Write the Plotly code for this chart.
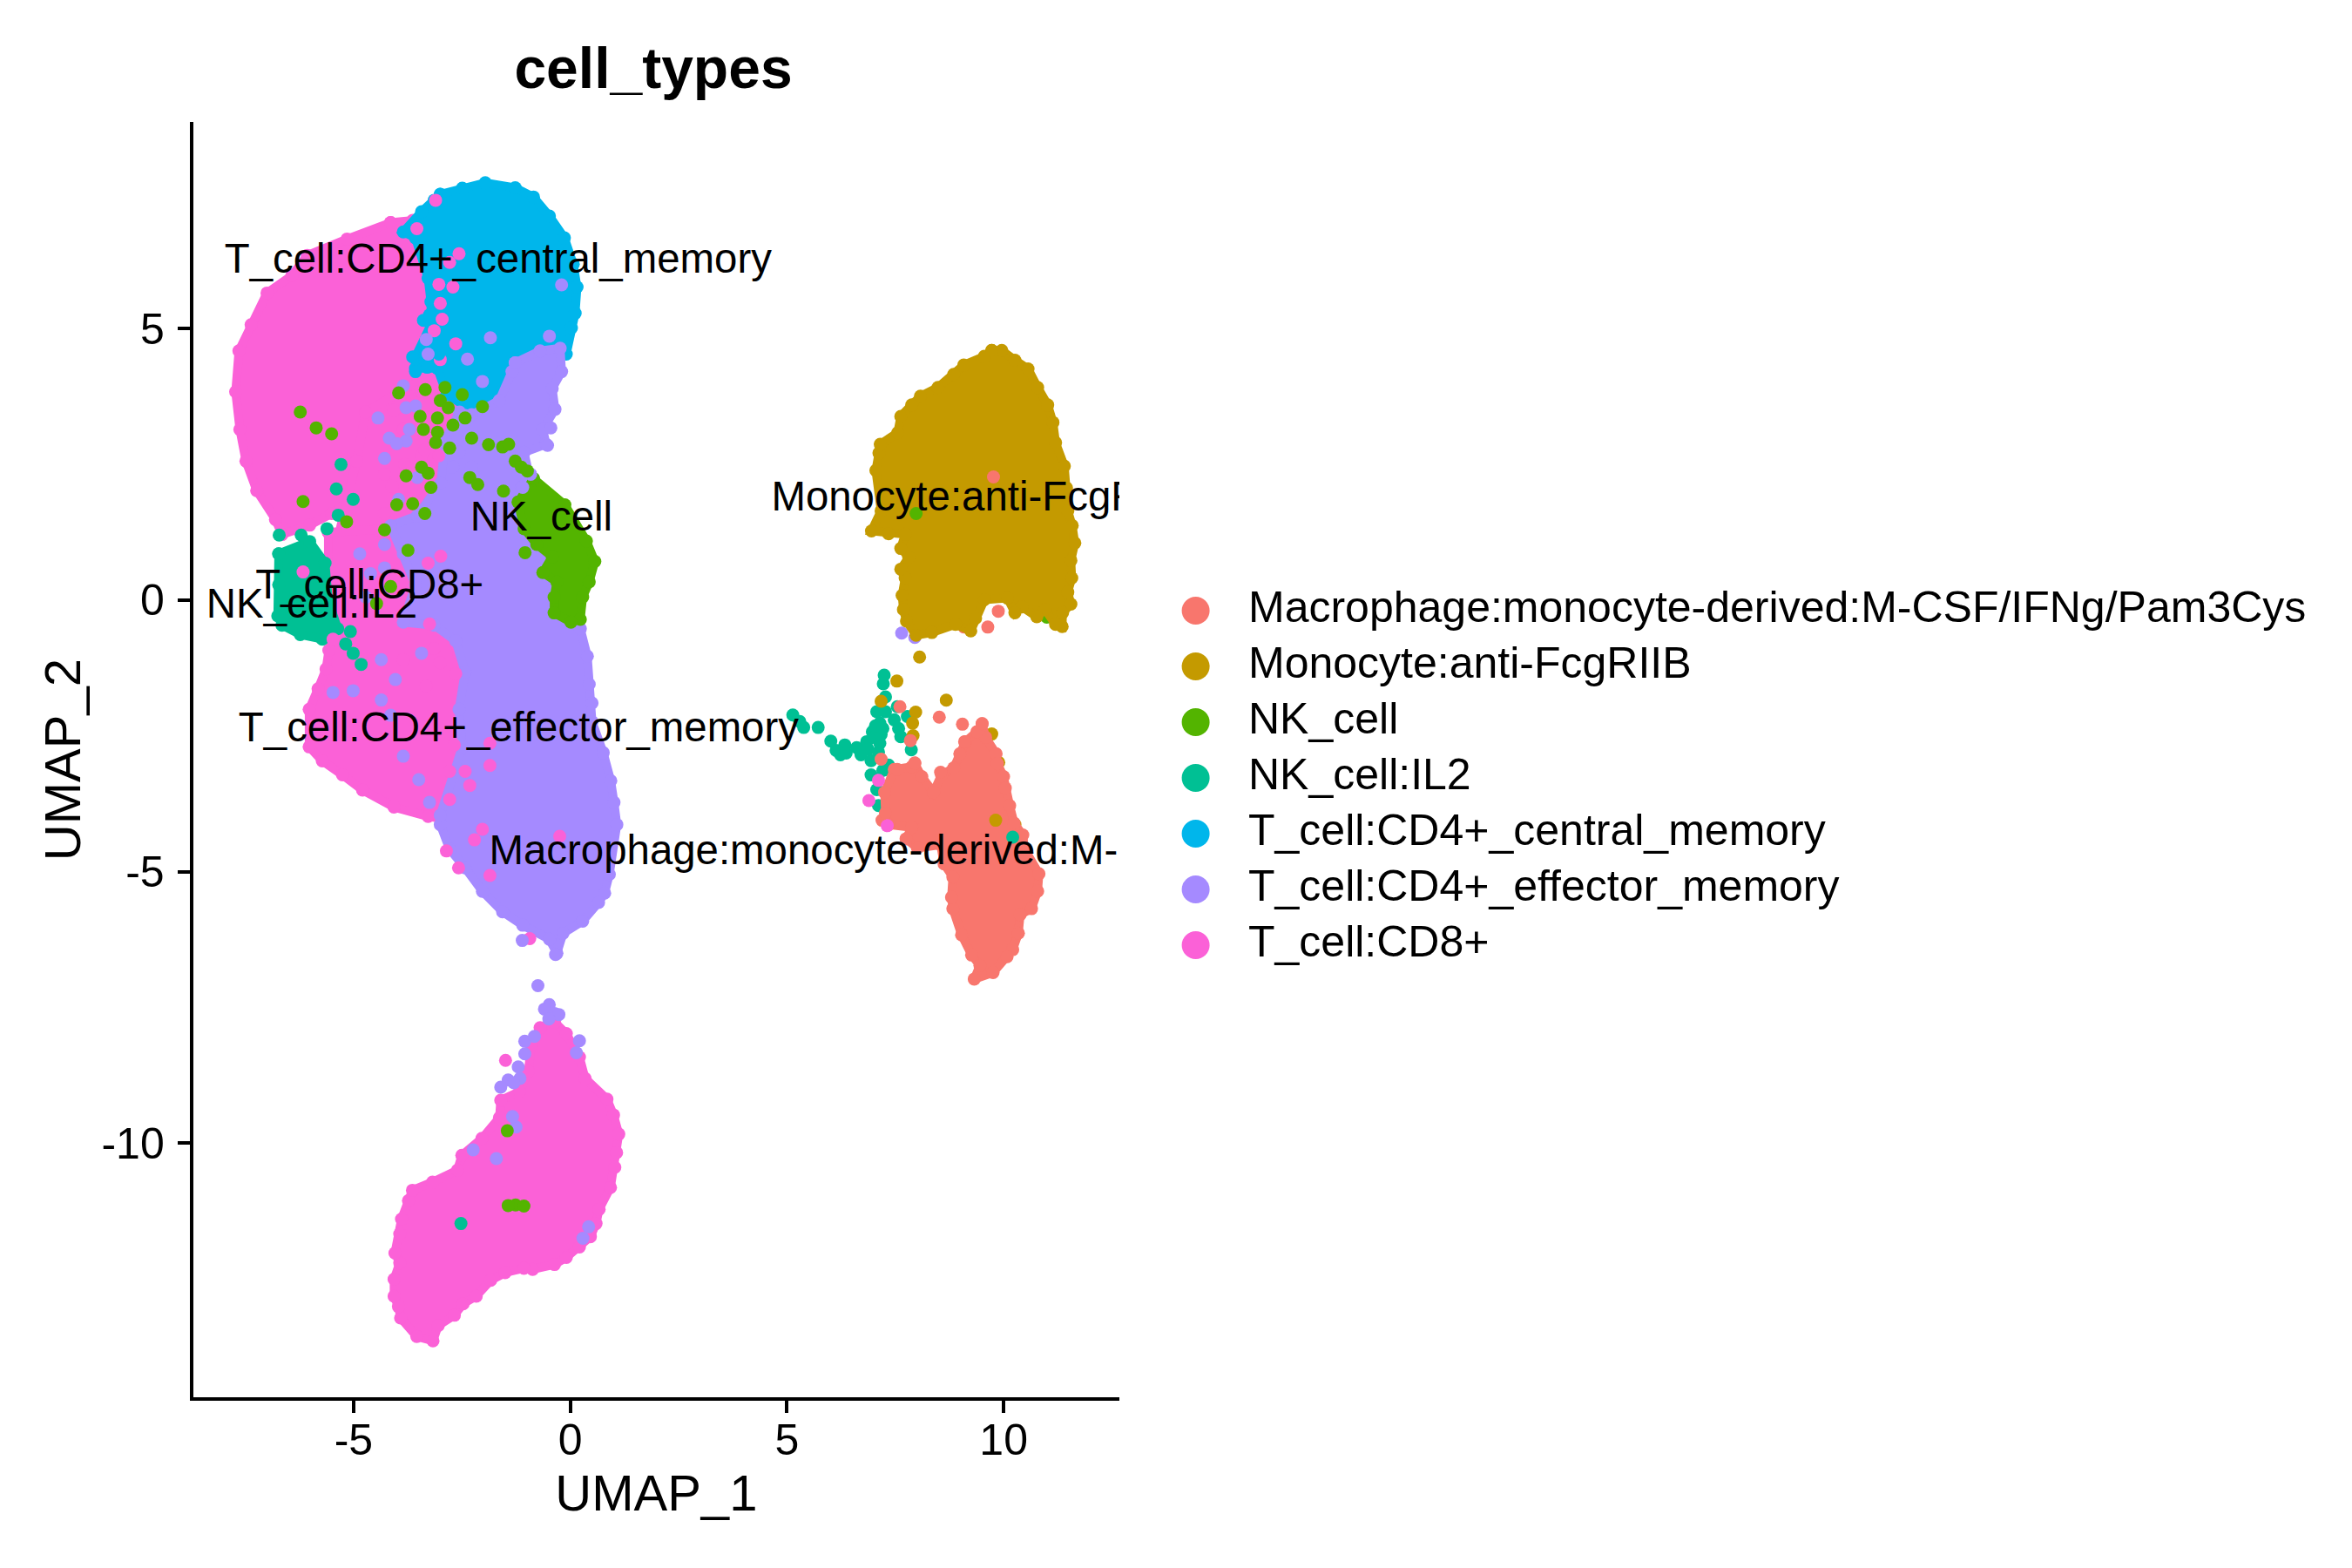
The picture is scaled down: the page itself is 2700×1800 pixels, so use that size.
import plotly.graph_objects as go

# ---------- categories / colours ----------
categories = ["Macrophage:monocyte-derived:M-CSF/IFNg/Pam3Cys", "Monocyte:anti-FcgRIIB", "NK_cell", "NK_cell:IL2",
              "T_cell:CD4+_central_memory", "T_cell:CD4+_effector_memory", "T_cell:CD8+"]
colors = ["#F8766D", "#C49A00", "#53B400", "#00C094", "#00B6EB", "#A58AFF", "#FB61D7"]
MAC, MONO, NK, IL2, CM, EM, CD8 = colors

x_tickvals = [-5, 0, 5, 10]
x_ticktext = ["-5", "0", "5", "10"]
y_tickvals = [-10, -5, 0, 5]
y_ticktext = ["-10", "-5", "0", "5"]

# ---------- cluster outlines (UMAP_1, UMAP_2) ----------
cd8_upper = [(-4.47,6.97),(-4.0,7.01),(-3.54,6.90),(-3.47,5.84),(-3.41,4.78),(-3.67,4.24),(-4.07,3.71),(-4.60,3.45),(-5.0,2.97),
             (-4.94,2.38),(-5.27,1.96),(-5.73,1.64),(-6.20,1.43),(-6.79,1.27),(-6.93,1.53),(-7.33,2.06),(-7.56,2.60),(-7.69,3.18),
             (-7.78,3.87),(-7.71,4.62),(-7.45,5.10),(-7.11,5.68),(-6.58,6.0),(-6.25,6.37),(-5.40,6.67)]
cd8_mix = [(-3.4,4.3),(-3.0,3.3),(-3.3,2.0),(-4.0,1.0),(-5.6,1.2),(-5.2,2.6),(-5.0,3.5)]
cd8_middle = [(-5.80,1.31),(-4.47,1.37),(-3.67,0.94),(-3.41,-0.12),(-3.01,-0.76),(-2.88,-1.51),(-3.08,-2.25),(-2.88,-2.99),(-3.41,-3.58),
              (-3.67,-3.55),(-4.40,-3.39),(-5.07,-3.10),(-5.50,-2.84),(-5.93,-2.60),(-6.21,-2.36),(-6.21,-1.72),(-6.02,-1.37),
              (-5.85,-1.03),(-5.79,-0.71),(-5.60,-0.12),(-5.80,0.68)]
cd8_lower = [(-0.42,-7.68),(-0.15,-7.89),(0.15,-8.32),(0.28,-8.71),(0.78,-9.09),(0.93,-9.38),(1.05,-9.73),(1.0,-10.07),(0.96,-10.34),
             (0.86,-10.71),(0.60,-11.11),(0.53,-11.37),(0.40,-11.61),(0.15,-11.80),(-0.15,-11.99),(-0.42,-12.12),(-0.92,-12.21),
             (-1.12,-12.19),(-1.55,-12.27),(-1.88,-12.41),(-2.21,-12.70),(-2.51,-12.84),(-2.71,-13.05),(-3.08,-13.24),(-3.20,-13.52),
             (-3.57,-13.44),(-3.94,-13.10),(-3.99,-12.89),(-4.09,-12.70),(-4.09,-12.39),(-3.96,-12.09),(-4.07,-11.91),(-3.96,-11.56),
             (-3.92,-11.29),(-3.76,-10.95),(-3.67,-10.76),(-3.21,-10.61),(-2.64,-10.39),(-2.54,-10.12),(-2.08,-9.81),(-1.68,-9.43),
             (-1.65,-9.11),(-1.22,-8.95),(-1.02,-8.58),(-0.95,-8.10),(-0.75,-7.78)]
cm_outline = [(-3.41,7.49),(-2.94,7.60),(-2.45,7.70),(-1.81,7.61),(-1.42,7.44),(-1.08,7.09),(-0.76,6.69),(-0.57,6.21),(-0.49,5.79),
              (-0.53,5.31),(-0.61,5.04),(-0.72,4.56),(-2.08,3.82),(-2.35,3.61),(-2.88,3.61),(-3.27,3.82),(-3.47,4.30),(-3.94,4.30),
              (-3.94,4.51),(-3.61,5.10),(-3.61,5.52),(-3.67,5.95),(-3.94,6.69),(-4.20,6.80),(-3.81,7.17),(-3.54,7.38)]
em_outline = [(-1.81,4.40),(-1.28,4.62),(-0.85,4.67),(-0.82,4.24),(-1.02,3.93),(-0.96,3.55),(-1.22,3.18),(-1.15,2.91),(-1.62,2.76),
              (-1.52,2.38),(-1.68,2.12),(-1.08,1.59),(-0.42,0.94),(-0.42,-0.34),(-0.27,-0.81),(-0.23,-1.29),(-0.17,-1.61),(-0.17,-1.93),
              (0.07,-2.46),(0.23,-2.94),(0.30,-3.31),(0.36,-3.69),(0.20,-4.54),(0.10,-4.86),(-0.03,-5.02),(-0.37,-5.34),(-0.79,-5.55),
              (-0.92,-5.89),(-1.08,-5.65),(-1.65,-5.41),(-2.08,-5.18),(-2.51,-4.83),(-2.88,-4.43),(-3.21,-4.11),(-3.41,-3.69),(-3.41,-3.53),
              (-2.94,-2.36),(-3.01,-1.72),(-2.88,-1.08),(-3.08,-0.55),(-3.54,-0.28),(-4.20,-0.23),(-3.94,0.41),(-4.20,0.94),(-4.47,1.42),
              (-3.9,1.6),(-3.4,2.2),(-3.3,3.0),(-3.0,3.5),(-2.74,3.45),(-2.15,3.71),(-1.88,4.24)]
il2_outline = [(-6.86,0.94),(-6.20,1.15),(-5.87,0.78),(-5.80,0.14),(-5.60,-0.34),(-5.93,-0.52),(-6.40,-0.44),(-6.79,-0.28),(-6.88,-0.12),(-6.86,0.41)]
nk_outline = [(-1.42,2.28),(-0.75,1.80),(-0.29,1.16),(-0.11,0.81),(-0.23,0.46),(-0.37,0.20),(-0.42,-0.18),(-0.62,-0.23),(-0.98,-0.07),
              (-0.98,0.20),(-0.92,0.46),(-1.22,0.62),(-1.02,0.89),(-1.35,1.10),(-1.62,1.37),(-1.75,1.85)]
mono_outline = [(9.58,4.63),(9.81,4.63),(10.11,4.45),(10.41,4.29),(10.63,3.95),(10.86,3.63),(10.98,3.31),(11.04,2.94),(11.24,2.51),(11.29,2.11),
                (11.32,1.69),(11.42,1.42),(11.48,1.10),(11.39,0.78),(11.41,0.46),(11.32,0.20),(11.39,-0.02),(11.20,-0.18),(11.19,-0.43),
                (11.04,-0.39),(10.80,-0.12),(10.61,-0.25),(10.27,-0.07),(10.11,-0.18),(9.94,0.09),(9.41,0.06),(9.21,-0.28),(9.10,-0.51),
                (8.75,-0.39),(8.21,-0.54),(7.85,-0.59),(7.63,-0.33),(7.56,-0.12),(7.53,0.14),(7.60,0.46),(7.50,0.62),(7.68,0.84),(7.50,1.0),
                (7.60,1.26),(7.22,1.27),(6.83,1.32),(7.05,1.69),(6.93,2.43),(7.0,2.75),(7.03,2.91),(7.43,3.12),(7.50,3.42),(7.75,3.63),
                (7.95,3.79),(8.35,3.95),(8.71,4.19),(8.94,4.36),(9.41,4.52)]
mac_outline = [(9.36,-2.21),(9.44,-2.46),(9.68,-2.76),(9.71,-2.94),(9.85,-3.18),(9.89,-3.39),(9.99,-3.71),(10.09,-4.03),(10.29,-4.25),(10.33,-4.51),
               (10.66,-4.96),(10.63,-5.28),(10.49,-5.60),(10.23,-5.71),(10.19,-6.05),(10.06,-6.35),(9.93,-6.48),(9.61,-6.77),(9.18,-6.89),
               (9.31,-6.64),(9.12,-6.45),(8.89,-6.08),(8.69,-5.60),(8.66,-5.39),(8.69,-5.02),(8.49,-4.78),(8.41,-4.43),(7.88,-4.49),(7.62,-4.32),
               (7.75,-4.11),(7.22,-4.06),(7.07,-3.98),(7.15,-3.85),(7.13,-3.47),(7.35,-3.05),(7.75,-3.0),(7.82,-2.94),(7.98,-3.18),(8.25,-3.47),
               (8.43,-3.15),(8.71,-3.02),(8.85,-2.76),(8.98,-2.54),(9.24,-2.36)]

# ---------- individual cells ----------
mono_cells = [(7.93,-0.99),(7.41,-1.43),(7.05,-1.80),(8.54,-1.78),(7.84,-2.0),(7.77,-2.20),(7.78,-2.43),(9.58,-2.40),(9.74,-2.92),(9.81,-3.32),
              (10.11,-4.06),(8.58,-3.71),(8.85,-5.26)]
mono_on_mac = [(9.67,-3.98)]
mac_cells = [(9.62,2.31),(8.38,-2.09),(8.91,-2.22),(8.96,-2.54),(7.82,-2.93),(8.41,-3.10),(7.05,-2.86),(7.42,-3.05),(7.72,-2.52),(7.48,-1.90)]
mac_under_mono = [(9.49,-0.44),(8.95,-0.44),(9.73,-0.15)]
nk_under_mono = [(10.84,-0.26)]
em_under_mono = [(7.52,-0.55),(7.82,-0.63)]
nk_cells = [(7.85,1.64),(-4.30,3.85),(-3.73,3.91),(-3.31,3.95),(-2.94,3.82),(-3.41,3.71),(-3.24,3.58),(-2.51,3.60),(-3.84,3.42),(-3.47,3.39),(-3.14,3.26),
            (-2.88,3.39),(-3.77,3.18),(-3.47,3.13),(-2.74,3.02),(-3.51,2.94),(-3.81,2.49),(-4.14,2.33),(-3.67,2.38),(-3.21,2.84),(-2.38,2.90),
            (-2.08,2.86),(-1.95,2.91),(-1.81,2.60),(-1.68,2.49),(-1.55,2.42),(-2.78,2.30),(-2.61,2.17),(-2.06,2.05),(-4.34,1.80),(-4.0,1.82),(-3.74,1.64),
            (-3.61,2.12),(-6.06,3.21),(-5.73,3.10),(-6.40,3.50),(-6.34,1.86),(-5.41,1.49),(-4.10,1.0),(-4.60,1.35),(-4.77,0.09),(-4.47,0.38),
            (-1.60,0.96),(-1.50,-9.67),(-1.31,-11.03),(-1.48,-11.04),(-1.12,-11.05)]
nk_under_cd8 = [(-3.74,-11.11),(-2.28,-12.68)]
il2_under_cd8 = [(-1.05,-10.76)]
il2_cells = [(-5.27,-0.76),(-5.43,-0.60),(-5.33,-0.39),(-5.10,-0.95),(-6.85,1.26),(-6.38,1.26),(-5.83,1.37),(-5.59,1.61),(-5.63,2.09),(-5.53,2.54),(-5.27,1.90),
             (5.03,-2.05),(5.19,-2.17),(5.28,-2.28),(5.61,-2.28),(5.90,-2.53),(6.02,-2.70),(6.12,-2.78),(6.22,-2.60),(6.25,-2.75),(6.49,-2.65),(6.59,-2.78),
             (6.72,-2.54),(6.85,-2.36),(7.02,-2.20),(7.12,-1.32),(7.10,-1.48),(7.15,-1.72),(6.95,-1.99),(7.42,-1.90),(7.65,-2.08),(7.35,-2.14),(7.45,-2.30),
             (7.50,-2.45),(7.74,-2.69),(7.15,-1.99),(7.02,-2.57),(6.82,-2.89),(6.82,-3.15),(6.95,-3.42),(6.99,-3.71),(7.09,-3.07),(7.22,-2.97),
             (8.12,-4.09),(8.35,-3.50),(6.89,-2.46),(7.05,-2.41),(6.75,-2.68),(6.99,-2.73),(6.92,-2.25),(7.09,-2.30)]
il2_on_top = [(10.06,-4.29),(-2.56,-11.37)]
cm_cells = [(-3.77,5.18),(-3.64,5.28),(-3.44,4.56),(-4.0,4.51),(-3.94,4.24),(-3.69,4.32)]
em_cells = [(-4.20,3.98),(-4.14,3.58),(-4.50,3.02),(-4.14,2.97),(-3.08,3.10),(-3.01,2.76),(-3.14,2.49),(-2.74,2.49),(-1.48,2.36),(-1.65,2.12),(-2.34,4.86),
            (-1.08,4.89),(-2.83,4.47),(-3.71,4.83),(-3.67,4.56),(-1.12,2.89),(-1.05,3.21),(-2.51,4.06),(-0.82,5.83),
            (-4.74,3.39),(-4.60,2.65),(-4.34,2.92),(-4.07,3.18),(-3.94,3.61),(-4.3,1.9),(-3.9,2.3),(-4.6,1.1),(-4.9,0.6),(-5.0,0.2),(-4.6,0.7),
            (-4.67,-0.87),(-4.37,-1.21),(-4.67,-1.56),(-5.27,-1.40),(-5.70,-1.43),(-4.20,-2.52),(-3.87,-2.92),(-3.64,-3.31),(-4.47,-1.82),(-5.13,0.94),
            (-3.81,-0.76),(-1.66,-5.67),(-0.95,-5.91),
            (-0.80,-7.01),(-0.54,-7.36),(-0.65,-7.44),(-0.42,-7.52),(-0.32,-7.54),(-0.55,-7.62),(-1.10,-8.03),(-1.10,-8.26),(-0.88,-7.94),(0.15,-8.02),(0.08,-8.24),
            (-1.25,-8.50),(-1.21,-8.71),(-1.48,-8.74),(-1.65,-8.87),(-1.35,-8.79),(-1.30,-9.60),(0.23,-11.64),(0.36,-11.43),(-2.28,-10.02),(-1.75,-10.18),(-1.38,-9.41)]
cd8_cells = [(-3.51,7.38),(-3.91,6.86),(-3.01,6.40),(-3.21,6.24),(-3.44,5.84),(-3.14,5.79),(-3.41,5.49),(-3.37,5.20),(-3.54,4.99),(-3.41,4.46),(-3.08,4.75),
             (-4.40,3.53),(-3.81,3.87),(-3.81,2.70),(-3.44,2.70),(-4.17,2.54),(-4.60,2.36),(-4.44,2.14),(-4.60,1.64),(-4.20,3.18),(-3.74,2.81),
             (-3.64,-0.26),(-3.54,-0.68),(-3.71,-1.32),(-3.08,-1.11),(-3.11,-2.33),(-2.35,-2.30),(-0.86,-3.89),(-1.50,-5.64),(-2.35,-4.56),(-3.02,-4.43),(-3.28,-4.14),
             (-2.51,-3.77),(-2.68,-3.95),(-2.78,-3.02),(-3.21,-3.26),(-3.21,-2.78),(-2.88,-2.78),(-2.35,-2.68),(-3.41,-0.92),(-4.20,-0.87),(-3.67,0.78),(-3.4,0.9),
             (-6.34,0.63),(-5.70,-0.52),(6.77,-3.62),(6.99,-3.25),(7.19,-4.08),(-1.54,-8.38)]

# ---------- cluster labels ----------
label_texts = ["T_cell:CD4+_central_memory", "Monocyte:anti-FcgRIIB", "NK_cell", "T_cell:CD8+", "NK_cell:IL2", "T_cell:CD4+_effector_memory",
               "Macrophage:monocyte-derived:M-CSF/IFNg/Pam3Cys"]
label_x = [-1.71, 9.34, -0.72, -4.65, -5.97, -1.24, 9.55]
label_y = [6.24, 1.88, 1.52, 0.28, -0.08, -2.35, -4.59]

# The readings of the upper-left clusters were taken from crops shown at a reduced scale; rescale them,
# then refine every reading to the exact tick positions of the reference.
def cal(x, y):
    if x < 2 and y > -6.2:
        x = -8.72 + 1.0711 * (x + 8.72)
        if y < 1.473:
            y = 1.473 + 1.0717 * (y - 1.473)
    return 0.0603 + 1.00884 * x, -0.053 + 1.00546 * y

def cal_xs(pts):
    return [cal(*p)[0] for p in pts]

def cal_ys(pts):
    return [cal(*p)[1] for p in pts]

# ---------- figure ----------
DOT = 15
fig = go.Figure()

def blob(pts, color):
    closed = list(pts) + [pts[0]]
    fig.add_trace(go.Scatter(x=cal_xs(closed), y=cal_ys(closed), mode="lines+markers", fill="toself", fillcolor=color,
                             line=dict(color=color, width=10), marker=dict(color=color, size=DOT),
                             hoverinfo="skip", showlegend=False))

def cells(pts, color):
    fig.add_trace(go.Scatter(x=cal_xs(pts), y=cal_ys(pts), mode="markers",
                             marker=dict(color=color, size=DOT), hoverinfo="skip", showlegend=False))

cells(mac_under_mono, MAC)
cells(nk_under_mono, NK)
cells(em_under_mono, EM)
cells(nk_under_cd8, NK)
cells(il2_under_cd8, IL2)
blob(mono_outline, MONO)
blob(cd8_upper, CD8)
blob(cd8_mix, CD8)
blob(cd8_middle, CD8)
blob(cd8_lower, CD8)
blob(cm_outline, CM)
blob(em_outline, EM)
blob(nk_outline, NK)
blob(il2_outline, IL2)
cells(il2_cells, IL2)
cells(mono_cells, MONO)
blob(mac_outline, MAC)
cells(mac_cells, MAC)
cells(mono_on_mac, MONO)
cells(cd8_cells, CD8)
cells(cm_cells, CM)
cells(em_cells, EM)
cells(nk_cells, NK)
cells(il2_on_top, IL2)

fig.add_trace(go.Scatter(x=[0.0603 + 1.00884 * v for v in label_x], y=[-0.053 + 1.00546 * v for v in label_y], mode="text", text=label_texts,
                         textposition="middle center", textfont=dict(family="Liberation Sans", size=47.4, color="black"),
                         hoverinfo="skip", showlegend=False))

# legend drawn as a small key panel
ranks = list(range(len(categories)))
fig.add_trace(go.Scatter(x=[0]*7, y=ranks, xaxis="x2", yaxis="y2", mode="markers",
                         marker=dict(color=colors, size=32), cliponaxis=False, hoverinfo="skip", showlegend=False))
fig.add_trace(go.Scatter(x=[1]*7, y=ranks, xaxis="x2", yaxis="y2", mode="text", text=categories, textposition="middle right",
                         textfont=dict(family="Liberation Sans", size=50, color="black"), cliponaxis=False,
                         hoverinfo="skip", showlegend=False))

axis_font = dict(family="Liberation Sans", size=50, color="black")
title_font = dict(family="Liberation Sans", size=58, color="black")
common = dict(showline=True, linecolor="black", linewidth=4, showgrid=False, zeroline=False, ticks="outside",
              ticklen=14, tickwidth=4, tickcolor="black", tickfont=axis_font, tickmode="array", tickangle=0)
fig.update_layout(
    width=2700, height=1800, paper_bgcolor="white", plot_bgcolor="white", showlegend=False,
    margin=dict(l=0, r=0, t=0, b=0),
    title=dict(text="<b>cell_types</b>", x=742/2700, xanchor="center", y=1-70/1800, yanchor="middle",
               font=dict(family="Liberation Sans", size=66, color="black")),
    xaxis=dict(domain=[213.7/2700, 1277/2700], range=[-8.702, 12.67], tickvals=x_tickvals, ticktext=x_ticktext, ticklabelstandoff=-12,
               title=dict(text="UMAP_1", font=title_font, standoff=14), anchor="y", **common),
    yaxis=dict(domain=[(1800-1596.3)/1800, (1800-132)/1800], range=[-14.69, 8.81], tickvals=y_tickvals, ticktext=y_ticktext, ticklabelstandoff=5,
               title=dict(text="UMAP_2", font=title_font, standoff=6), anchor="x", **common),
    xaxis2=dict(domain=[1364.6/2700, 1425/2700], range=[0, 1], visible=False, anchor="y2"),
    yaxis2=dict(domain=[(1800-1077)/1800, (1800-693)/1800], range=[6, 0], visible=False, anchor="x2"),
)
fig.write_html("out.html")
